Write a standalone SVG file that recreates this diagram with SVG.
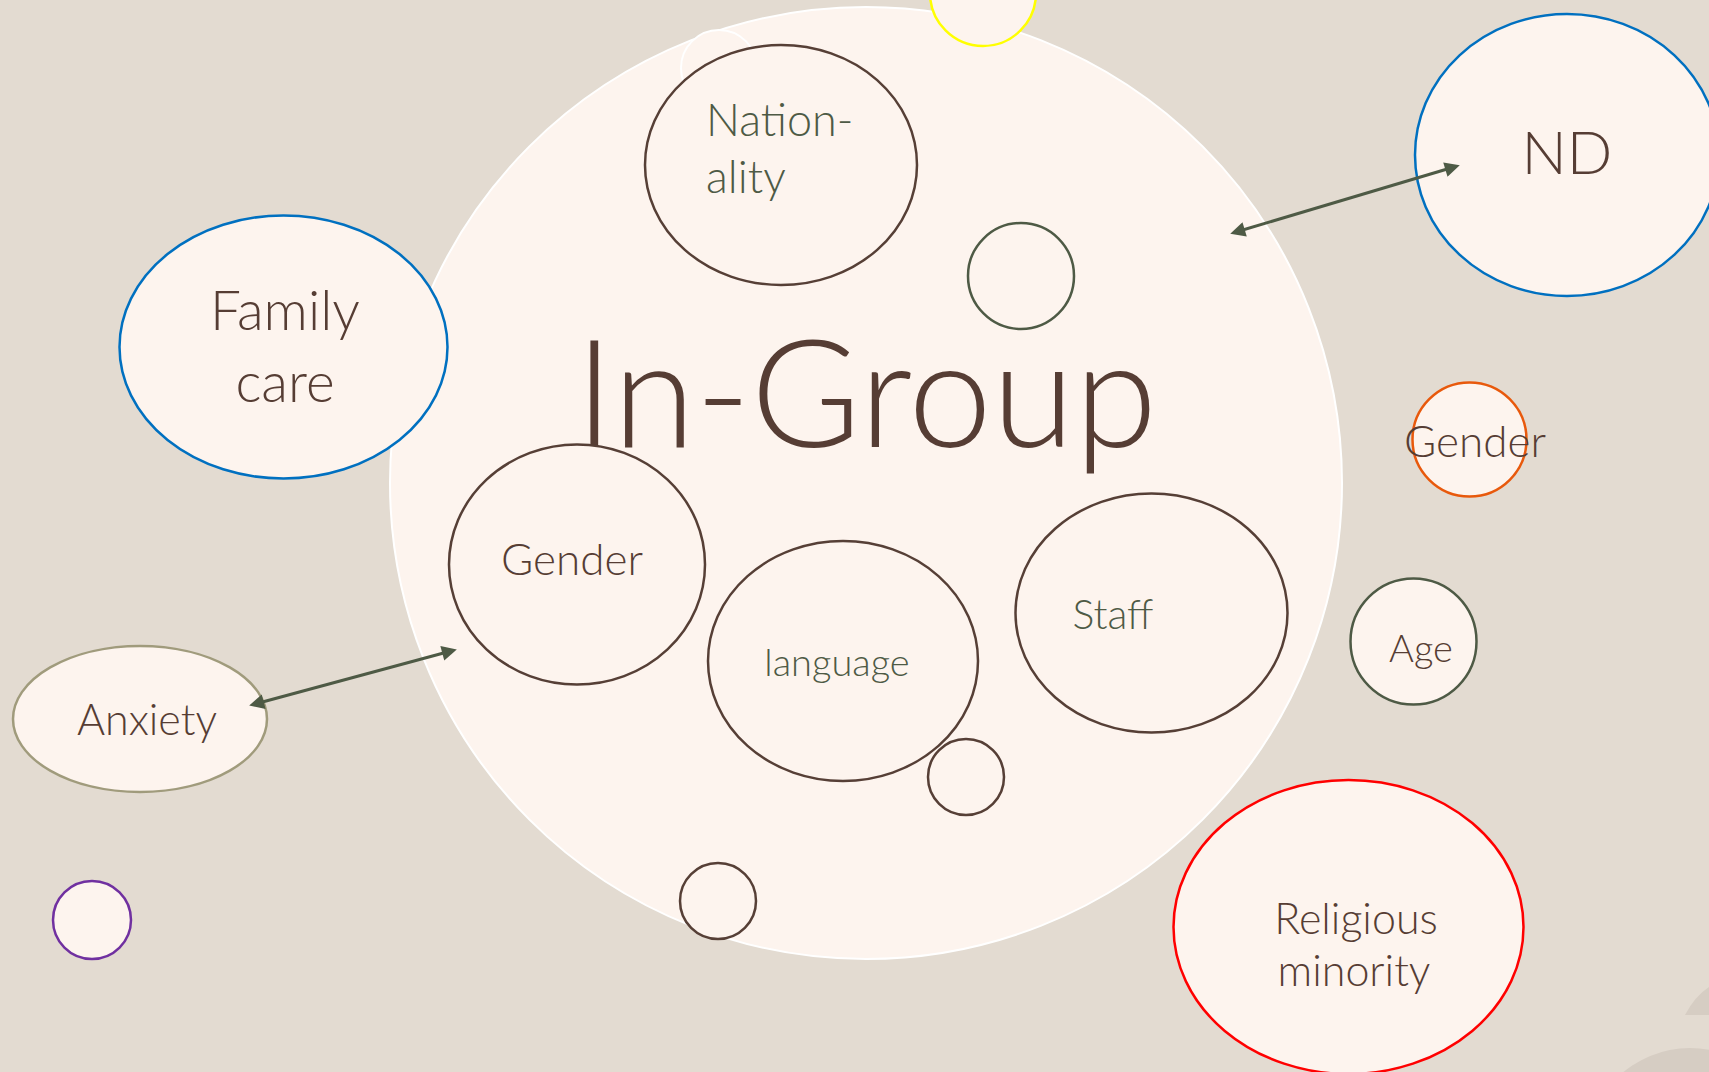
<svg xmlns="http://www.w3.org/2000/svg" width="1709" height="1072" viewBox="0 0 1709 1072">
  <style>
    .node { fill: #fdf4ee; stroke-width: 2.5; }
    .brown { stroke: #563f36; }
    .olive { stroke: #4e5a45; }
    .lbl { font-family: Lato, "Open Sans", "Liberation Sans", sans-serif; font-weight: 300; fill: #563d34; text-anchor: middle; }
    .lbl-g { fill: #4e5a45; }
    .link { stroke: #4e5a45; stroke-width: 3; fill: none; }
  </style>
  <defs>
    <marker id="head" viewBox="0 0 10 10" refX="6" refY="5" markerWidth="6" markerHeight="5" orient="auto-start-reverse" markerUnits="strokeWidth">
      <path d="M0,0 L10,5 L0,10 Z" fill="#4e5a45"/>
    </marker>
  </defs>

  <!-- backdrop -->
  <rect width="1709" height="1072" fill="#e3dbd1"/>
  <path d="M1685,1015 Q1695,996 1709,987 L1709,1015 Z" fill="#d6cdc3"/>
  <circle cx="1690" cy="1152" r="104" fill="#d6cdc3"/>

  <!-- large in-group area -->
  <g id="in-group">
    <circle cx="866" cy="483" r="476" fill="#fdf4ee" stroke="#ffffff" stroke-width="2"/>
  </g>
  <g id="faint-circle">
    <circle cx="719" cy="68" r="38" fill="#fdf4ee" stroke="#ffffff" stroke-width="2"/>
  </g>
  <g id="yellow-circle">
    <circle cx="983" cy="-7" r="53" class="node" stroke="#ffff00" stroke-width="3"/>
  </g>

  <g id="nationality">
    <ellipse cx="781" cy="165" rx="136" ry="120" class="node brown"/>
    <text class="lbl lbl-g" font-size="45" font-weight="400" style="text-anchor:start" x="706" y="136">Nation-</text>
    <text class="lbl lbl-g" font-size="45" font-weight="400" style="text-anchor:start" x="706" y="193">ality</text>
  </g>

  <g id="small-circle-top">
    <circle cx="1021" cy="276" r="53" class="node olive"/>
  </g>

  <g id="in-group-title">
    <text class="lbl" font-size="150" x="866" y="447">In-Group</text>
  </g>

  <g id="family-care">
    <ellipse cx="283.5" cy="347" rx="164" ry="131.5" class="node" stroke="#0070c0"/>
    <text class="lbl" font-size="55" x="285" y="330">Family</text>
    <text class="lbl" font-size="55" x="285" y="402">care</text>
  </g>

  <g id="nd">
    <ellipse cx="1567" cy="155" rx="152" ry="141" class="node" stroke="#0070c0"/>
    <text class="lbl" font-size="60" x="1567" y="174">ND</text>
  </g>

  <g id="gender-in">
    <ellipse cx="577" cy="564.5" rx="128" ry="120" class="node brown"/>
    <text class="lbl" font-size="44" font-weight="400" x="572" y="575">Gender</text>
  </g>

  <g id="language">
    <ellipse cx="843" cy="661" rx="135" ry="120" class="node brown"/>
    <text class="lbl lbl-g" font-size="38" font-weight="400" x="837" y="676">language</text>
  </g>

  <g id="staff">
    <ellipse cx="1151.5" cy="613" rx="136" ry="119.5" class="node brown"/>
    <text class="lbl lbl-g" font-size="41" font-weight="400" x="1113" y="629">Staff</text>
  </g>

  <g id="small-circle-language">
    <circle cx="966" cy="777" r="38" class="node brown"/>
  </g>
  <g id="small-circle-bottom">
    <circle cx="718" cy="901" r="38" class="node brown"/>
  </g>

  <g id="gender-out">
    <circle cx="1469.5" cy="439.5" r="57" class="node" stroke="#e8590c"/>
    <text class="lbl" font-size="44" x="1475" y="457">Gender</text>
  </g>

  <g id="age">
    <circle cx="1413.5" cy="641.5" r="63" class="node olive"/>
    <text class="lbl" font-size="38" x="1421" y="662">Age</text>
  </g>

  <g id="anxiety">
    <ellipse cx="140" cy="719" rx="127" ry="73" class="node" stroke="#a09b7c"/>
    <text class="lbl" font-size="43" x="147" y="735">Anxiety</text>
  </g>

  <g id="purple-circle">
    <circle cx="92" cy="920" r="39" class="node" stroke="#7030a0"/>
  </g>

  <g id="religious-minority">
    <ellipse cx="1348.5" cy="927" rx="175" ry="147" class="node" stroke="#ff0000"/>
    <text class="lbl" font-size="43" x="1356" y="934">Religious</text>
    <text class="lbl" font-size="43" x="1354" y="986">minority</text>
  </g>

  <!-- two-way connectors -->
  <g id="connectors">
    <line class="link" x1="1236" y1="232" x2="1454" y2="167" marker-start="url(#head)" marker-end="url(#head)"/>
    <line class="link" x1="255" y1="704" x2="451" y2="651" marker-start="url(#head)" marker-end="url(#head)"/>
  </g>
</svg>
